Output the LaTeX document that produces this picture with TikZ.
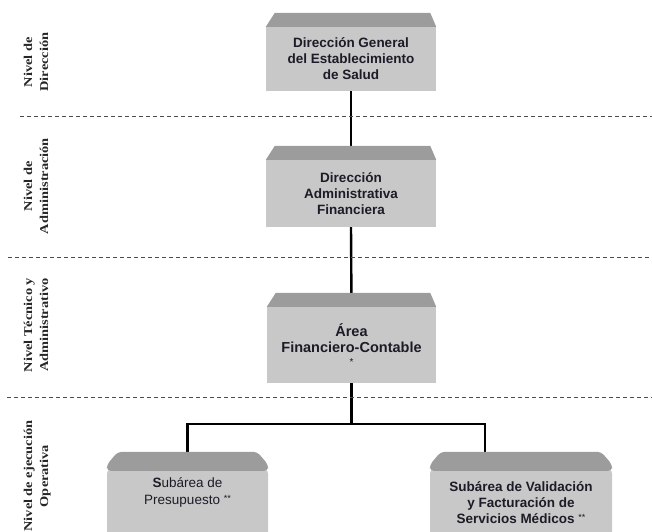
\documentclass[tikz,border=0pt]{standalone}
\usepackage{fontspec}
\setmainfont{Liberation Sans}
\newfontfamily\serifa{Liberation Serif}
\usetikzlibrary{backgrounds}

\definecolor{cuerpo}{HTML}{C8C8C8}
\definecolor{techo}{HTML}{9C9C9C}
\definecolor{letra}{HTML}{1C1C28}

\tikzset{
	caja/.style={rectangle, fill=cuerpo, inner sep=0pt, align=center, text=letra,
		font=\fontsize{13.5}{16}\selectfont\bfseries},
	cajainf/.style={rectangle, fill=cuerpo, inner sep=0pt, rounded corners=6pt},
	texto/.style={align=center, text=letra, inner sep=0pt},
	bisel/.style={fill=techo},
	conector/.style={line width=2.4pt, black},
	divisor/.style={line width=0.8pt, gray!60!black, dash pattern=on 4pt off 3pt},
	nivel/.style={rotate=90, align=center, inner sep=0pt, text=black!85,
		font=\serifa\fontsize{12}{16}\selectfont\bfseries}
}

\newcommand{\bisel}[1]{\fill[bisel] (#1.north west) -- ([shift={(9,-14)}]#1.north west)
	-- ([shift={(-6,-14)}]#1.north east) -- (#1.north east) -- cycle;}
\newcommand{\biselinf}[1]{\fill[bisel, rounded corners=4pt] ([yshift=-3pt]#1.north west)
	-- ([shift={(0,-3)}]#1.north west) -- ([shift={(11,-16)}]#1.north west)
	-- ([shift={(-11,-16)}]#1.north east) -- ([shift={(0,-3)}]#1.north east)
	-- ([yshift=-3pt]#1.north east) -- cycle;}
\newcommand{\estrellas}[1]{\raisebox{3pt}{\fontsize{9}{9}\selectfont\mdseries #1}}

\begin{document}
\begin{tikzpicture}[x=1pt, y=-1pt]
	\useasboundingbox (0,0) rectangle (652,531);

	\draw[divisor] (20,116) -- (652,116);
	\draw[divisor] (8,257) -- (652,257);
	\draw[divisor] (7,397) -- (652,397);

	\node[nivel] (nivDir) at (37,62) {\scalebox{1.2}[1]{\begin{tabular}{c}Nivel de\\Dirección\end{tabular}}};
	\node[nivel] (nivAdm) at (37,186) {\scalebox{1.2}[1]{\begin{tabular}{c}Nivel de\\Administración\end{tabular}}};
	\node[nivel] (nivTec) at (37,325) {\scalebox{1.2}[1]{\begin{tabular}{c}Nivel Técnico y\\Administrativo\end{tabular}}};
	\node[nivel] (nivOpe) at (37,476) {\scalebox{1.2}[1]{\begin{tabular}{c}Nivel de ejecución\\Operativa\end{tabular}}};

	\node[caja, minimum width=170, minimum height=64] (dirgen) at (351,59)
		{Dirección General\\del Establecimiento\\de Salud};
	\node[caja, minimum width=170, minimum height=67] (adm) at (351,193.5)
		{Dirección\\Administrativa\\Financiera};
	\node[caja, minimum width=169, minimum height=76] (area) at (351.5,345)
		{\fontsize{14.5}{18}\selectfont Área\\\fontsize{14.5}{18}\selectfont Financiero-Contable\\[-3pt]
		\fontsize{10}{10}\selectfont\mdseries *};
	\node[cajainf, minimum width=161, minimum height=80] (presup) at (187.5,508) {};
	\node[cajainf, minimum width=182, minimum height=80] (valid) at (521,508) {};

	\bisel{dirgen}
	\bisel{adm}
	\bisel{area}
	\biselinf{presup}
	\biselinf{valid}

	\node[texto, font=\fontsize{13.5}{17}\selectfont] (presupTxt) at (187.5,492)
		{\textbf{S}ubárea de\\Presupuesto \estrellas{**}};
	\node[texto, font=\fontsize{13.5}{16}\selectfont\bfseries] (validTxt) at (521,503)
		{Subárea de Validación\\y Facturación de\\Servicios Médicos \estrellas{**}};

	\begin{pgfonlayer}{background}
		\draw[conector] (dirgen.south) -- (adm.north);
		\draw[conector] (adm.south) -- (area.north);
		\draw[conector] (area.south) -- ++(0,41) coordinate (bus);
		\draw[conector] (presup.north) |- (bus) -| ([xshift=55pt]valid.north west);
	\end{pgfonlayer}
\end{tikzpicture}
\end{document}
